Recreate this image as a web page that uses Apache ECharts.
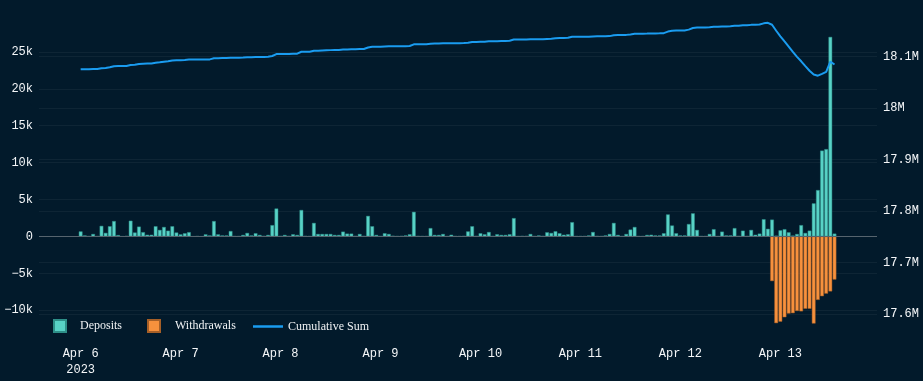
<!DOCTYPE html>
<html>
<head>
<meta charset="utf-8">
<script src="https://cdn.jsdelivr.net/npm/echarts@6/dist/echarts.min.js"></script>
<style>
html,body{margin:0;padding:0;background:#021a2b;}
#chart{width:923px;height:381px;}
</style>
</head>
<body>
<div id="chart"></div>
<script>
// Hourly buckets starting Apr 6 2023 00:00 (UTC)
const startTime = Date.UTC(2023, 3, 6, 0, 0, 0);
const hourMs = 3600000;

// Deposits per hour (hours 0..181)
const deposits = [
  680,130,30,330,30,1430,480,1380,2080,180,
  0,50,2130,530,1330,580,230,230,1380,880,
  1280,780,1380,530,280,430,580,0,30,0,
  280,130,2080,280,130,130,730,30,30,200,
  470,130,430,200,50,200,1530,3780,50,200,
  50,290,200,3580,50,30,1830,330,330,330,
  330,200,200,650,380,380,50,330,50,2780,
  1380,200,30,430,330,80,30,50,130,290,
  3330,50,30,30,1130,200,200,330,30,230,
  30,30,50,680,1380,50,430,290,600,50,
  290,200,200,290,2480,30,50,50,330,30,
  130,50,560,470,700,430,230,290,1930,30,
  30,30,130,600,50,30,130,330,1830,200,
  30,330,930,1280,30,30,200,230,130,130,
  430,2980,1480,430,130,130,1680,3130,880,30,
  30,330,980,30,650,130,130,1130,50,780,
  50,880,230,380,2330,1030,2280,100,830,980,
  560,110,330,1530,470,785,4480,6280,11630,11830,
  27030,380
];

// Withdrawals (negative), only in the final hours (hours 166..181)
const withdrawalStartHour = 166;
const withdrawalValues = [
  -6050,-11750,-11550,-10950,-10450,-10400,-10100,-10150,
  -9800,-9800,-11800,-8600,-8100,-7750,-7450,-5850
];

const startingBalance = 18075000;

// Tick labels
const leftTicks = [-10000,-5000,0,5000,10000,15000,20000,25000];
const rightTicks = [17600000,17700000,17800000,17900000,18000000,18100000];
const dayTicks = [6,7,8,9,10,11,12,13].map(d => Date.UTC(2023,3,d));

// Build series data
const times = deposits.map((_, i) => startTime + i * hourMs);
const withdrawals = deposits.map((_, i) => {
  const k = i - withdrawalStartHour;
  return (k >= 0 && k < withdrawalValues.length) ? withdrawalValues[k] : null;
});
let running = startingBalance;
const cumulative = deposits.map((d, i) => {
  running += d + (withdrawals[i] || 0);
  return running;
});

const depData = times.map((t, i) => [t, deposits[i]]);
const wdData = times.map((t, i) => [t, withdrawals[i]]);
const cumData = times.map((t, i) => [t, cumulative[i]]);

const axisFont = {fontFamily: '"Liberation Mono","Courier New",monospace', fontSize: 12, color: '#f4f6f8'};
const legendFont = {fontFamily: '"Liberation Serif","Times New Roman",serif', fontSize: 12, color: '#f0f2f4'};
const gridLine = {lineStyle: {color: 'rgba(255,255,255,0.05)', width: 1}};

const chart = echarts.init(document.getElementById('chart'), null, {renderer: 'canvas'});
chart.setOption({
  animation: false,
  backgroundColor: '#021a2b',
  grid: {left: 39, right: 46, top: 15, height: 310, containLabel: false},
  legend: [
    {data: ['Deposits'], left: 53, top: 319, padding: 0, itemWidth: 12, itemHeight: 12,
     icon: 'rect', formatter: '{a|{name}}',
     textStyle: Object.assign({}, legendFont, {rich: {a: Object.assign({}, legendFont, {padding: [0,0,0,9]})}})},
    {data: ['Withdrawals'], left: 147, top: 319, padding: 0, itemWidth: 12, itemHeight: 12,
     icon: 'rect', formatter: '{a|{name}}',
     textStyle: Object.assign({}, legendFont, {rich: {a: Object.assign({}, legendFont, {padding: [0,0,0,10]})}})},
    {data: ['Cumulative Sum'], left: 253, top: 320.5, padding: 0, itemWidth: 30, itemHeight: 2.5,
     icon: 'rect', textStyle: legendFont}
  ],
  xAxis: {
    type: 'value',
    min: startTime - 10 * hourMs,
    max: startTime + 191.2 * hourMs,
    axisLine: {show: false},
    axisTick: {show: false, customValues: dayTicks},
    splitLine: {show: false},
    axisLabel: Object.assign({}, axisFont, {
      customValues: dayTicks,
      margin: 21,
      lineHeight: 16,
      align: 'center',
      formatter: function (v) {
        const d = new Date(v);
        const s = 'Apr ' + d.getUTCDate();
        return d.getUTCDate() === 6 ? s + '\n2023' : s;
      }
    })
  },
  yAxis: [
    {
      type: 'value', min: -12000, max: 30000,
      axisLine: {show: false},
      axisTick: {show: false, customValues: leftTicks},
      splitLine: Object.assign({show: true}, gridLine),
      axisLabel: Object.assign({}, axisFont, {
        customValues: leftTicks, margin: 6,
        formatter: v => v === 0 ? '0' : (v < 0 ? '\u2212' + (-v / 1000) + 'k' : (v / 1000) + 'k')
      })
    },
    {
      type: 'value', min: 17579000, max: 18181000, position: 'right',
      axisLine: {show: false},
      axisTick: {show: false, customValues: rightTicks},
      splitLine: Object.assign({show: true}, gridLine),
      axisLabel: Object.assign({}, axisFont, {
        customValues: rightTicks, margin: 6, align: 'left',
        formatter: v => (Math.round(v / 100000) / 10) + 'M'
      })
    }
  ],
  series: [
    {
      name: 'Deposits', type: 'bar', stack: 'flow', yAxisIndex: 0,
      barWidth: 3.7, data: depData,
      itemStyle: {color: '#58d2c6', borderColor: '#2e8f88', borderWidth: 0.5},
      markLine: {
        silent: true, symbol: 'none', label: {show: false},
        lineStyle: {color: '#56646e', type: 'solid', width: 1},
        data: [{yAxis: 0}]
      }
    },
    {
      name: 'Withdrawals', type: 'bar', stack: 'flow', yAxisIndex: 0,
      barWidth: 3.7, data: wdData,
      itemStyle: {color: '#f7913d', borderColor: '#a65f27', borderWidth: 0.5}
    },
    {
      name: 'Cumulative Sum', type: 'line', yAxisIndex: 1,
      data: cumData, showSymbol: false, symbol: 'none',
      lineStyle: {color: '#1a9cf0', width: 2},
      itemStyle: {color: '#1a9cf0'}
    }
  ]
});
</script>
</body>
</html>
